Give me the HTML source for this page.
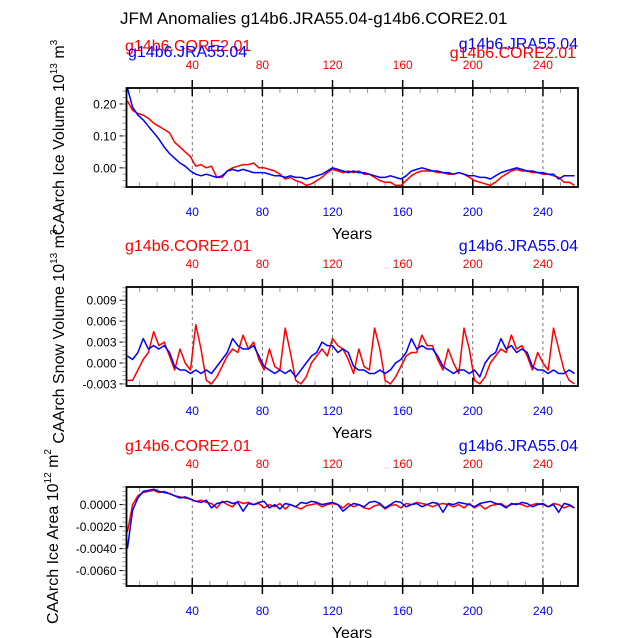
<!DOCTYPE html>
<html><head><meta charset="utf-8"><style>
html,body{margin:0;padding:0;background:#fff;}
svg{display:block;font-family:"Liberation Sans",sans-serif;}
</style></head><body>
<svg id="chart" width="638" height="638" viewBox="0 0 638 638">
<text x="120" y="24" font-size="17">JFM Anomalies g14b6.JRA55.04-g14b6.CORE2.01</text>
</svg>
<script>
const years = [3,6,9,12,15,18,21,24,27,30,33,36,39,42,45,48,51,54,57,60,63,66,69,72,75,78,81,84,87,90,93,96,99,102,105,108,111,114,117,120,123,126,129,132,135,138,141,144,147,150,153,156,159,162,165,168,171,174,177,180,183,186,189,192,195,198,201,204,207,210,213,216,219,222,225,228,231,234,237,240,243,246,249,252,255,258];
const xTicks = [40,80,120,160,200,240];
// Panel 1: ice volume (1e13 m3)
const volRed = [0.21,0.18,0.17,0.165,0.155,0.14,0.13,0.12,0.11,0.08,0.065,0.05,0.035,0.005,0.01,0.0,0.005,-0.03,-0.03,-0.01,0.0,0.005,0.01,0.01,0.015,0.0,0.0,-0.005,-0.01,-0.02,-0.035,-0.03,-0.04,-0.045,-0.055,-0.05,-0.04,-0.03,-0.015,-0.005,-0.01,-0.015,-0.01,-0.015,-0.01,-0.02,-0.02,-0.03,-0.04,-0.045,-0.045,-0.055,-0.055,-0.04,-0.025,-0.015,-0.01,-0.01,-0.01,-0.015,-0.015,-0.02,-0.02,-0.015,-0.02,-0.03,-0.04,-0.045,-0.05,-0.055,-0.045,-0.03,-0.02,-0.01,-0.005,-0.01,-0.01,-0.015,-0.015,-0.02,-0.02,-0.025,-0.03,-0.045,-0.045,-0.055];
const volBlue = [0.25,0.19,0.165,0.15,0.13,0.11,0.09,0.065,0.045,0.03,0.015,0.005,-0.01,-0.02,-0.025,-0.02,-0.025,-0.03,-0.025,-0.01,-0.005,-0.01,-0.005,-0.01,-0.015,-0.015,-0.015,-0.02,-0.025,-0.025,-0.03,-0.025,-0.03,-0.03,-0.035,-0.03,-0.025,-0.02,-0.01,0.0,-0.005,-0.01,-0.015,-0.01,-0.015,-0.015,-0.02,-0.025,-0.03,-0.03,-0.025,-0.03,-0.035,-0.025,-0.01,-0.005,0.0,-0.005,-0.01,-0.01,-0.015,-0.015,-0.02,-0.015,-0.02,-0.025,-0.025,-0.03,-0.03,-0.035,-0.025,-0.015,-0.01,-0.005,0.0,-0.005,-0.01,-0.01,-0.015,-0.015,-0.02,-0.02,-0.035,-0.025,-0.025,-0.025];
const volTicks = [0.20,0.10,0.00];
const volTickLabels = ["0.20","0.10","0.00"];
// Panel 2: snow volume (1e13 m3), values in units of 0.001
const snowRed = [-2.5,-2.5,-1.0,
 0.5,1.5,4.5,2.5,3.0,1.0,-1.0,2.0,0.0,-1.0,5.5,2.0,-2.5,-3.0,-2.0,-0.5,1.0,
 2.0,1.5,4.0,2.0,3.0,0.5,-1.0,2.0,-0.5,-1.0,5.0,1.5,-2.5,-3.0,-2.0,0.0,1.0,
 2.0,1.0,3.5,2.5,2.0,0.5,-1.5,2.0,-0.5,-1.0,5.0,2.0,-2.5,-3.0,-2.0,-0.5,1.0,
 1.5,1.5,4.0,2.5,2.5,0.5,-1.0,2.0,0.0,-1.5,5.0,2.0,-2.5,-3.0,-2.0,0.0,1.0,
 2.0,1.5,4.0,2.0,2.5,1.0,-1.0,1.5,0.0,-1.0,5.0,2.0,-1.0,-2.5,-3.0];
const snowBlue = [1.0,0.5,1.5,
 3.5,2.0,2.5,2.0,2.5,1.5,-0.5,-1.0,-1.0,-1.5,-1.0,-1.5,-1.0,-1.5,-0.5,0.5,1.5,
 3.5,2.5,2.0,2.0,2.5,1.0,-0.5,-1.0,-1.5,-1.0,-1.5,-1.0,-2.0,-1.0,0.0,1.0,1.5,
 3.0,2.5,2.5,1.5,2.0,1.5,-0.5,-1.0,-1.0,-1.5,-1.5,-1.0,-1.5,-1.0,0.0,0.5,1.5,
 3.5,2.0,2.5,2.0,2.0,1.0,-0.5,-1.0,-1.5,-1.0,-1.0,-1.5,-1.0,-2.0,0.0,1.0,1.5,
 3.5,2.0,2.5,1.5,2.0,1.5,-0.5,-1.0,-1.0,-1.5,-1.0,-1.5,-1.5,-1.0,-1.5];
const snowTicks = [9,6,3,0,-3];
const snowTickLabels = ["0.009","0.006","0.003","0.000","-0.003"];
// Panel 3: ice area (1e12 m2), values in units of 0.0001
const areaRed = [-25,0,8,11,12,13,11,12,10,8,7,6,5,3,4,2,1,-3,3,0,-2,3,1,2,0,1,-3,0,-2,1,-4,0,-2,-4,-1,0,1,-2,0,1,0,-3,1,-2,0,-3,-4,-1,0,-4,-1,0,-3,1,0,2,1,0,-2,0,1,0,-2,0,-3,1,-3,0,-4,-1,0,1,-2,0,1,0,-2,0,1,0,-2,1,0,-3,-1,-3];
const areaBlue = [-40,-5,6,12,13,14,12,11,10,8,6,7,5,3,2,4,-3,1,2,3,1,2,-6,1,0,2,3,-3,0,-4,1,0,-2,2,1,3,2,0,1,2,0,-6,-2,1,0,-2,2,3,1,-3,0,3,2,-2,0,1,-2,0,2,1,-7,1,0,2,1,0,-2,1,2,3,1,0,-3,1,0,2,1,-2,0,1,-2,0,-7,1,0,-3];
const areaTicks = [0,-20,-40,-60];
const areaTickLabels = ["0.0000","-0.0020","-0.0040","-0.0060"];

const NS = "http://www.w3.org/2000/svg";
const svg = document.getElementById('chart');
function mk(tag, attrs, parent){const e=document.createElementNS(NS,tag);for(const k in attrs)e.setAttribute(k,attrs[k]);(parent||svg).appendChild(e);return e;}
const X0=126.5, X1=578;
const xScale = v => X0 + (v-2.5)/(260-2.5)*(X1-X0);

function panel(cfg){
  const g = mk('g',{});
  
  
  const {top,bot,ymax,ymin} = cfg;
  const yScale = v => top + (ymax-v)/(ymax-ymin)*(bot-top);
  xTicks.forEach(t=>{
    const l=mk('line',{x1:xScale(t),x2:xScale(t),y1:top,y2:bot,stroke:'#555','stroke-width':0.8,'stroke-dasharray':'3,3'},g);
    
    
  });
  for(let t=10;t<=260;t+=10){
    const x=xScale(t); if(x>X1) continue;
    const major = t%40===0;
    mk('line',{x1:x,x2:x,y1:top,y2:top+(major?8:5),stroke:major?'#000':'#999','stroke-width':major?1.5:1},g);
    mk('line',{x1:x,x2:x,y1:bot,y2:bot-(major?8:5),stroke:major?'#000':'#999','stroke-width':major?1.5:1},g);
    if(major){
      mk('line',{x1:x,x2:x,y1:top-8,y2:top,stroke:'#000','stroke-width':1.5},g);
      mk('line',{x1:x,x2:x,y1:bot,y2:bot+8,stroke:'#000','stroke-width':1.5},g);
    }
  }
  [[cfg.red,'#f00','red-series'],[cfg.blue,'#00f','blue-series']].forEach(([arr,col,nm])=>{
    const d = arr.map((v,i)=>(i?'L':'M')+xScale(years[i]).toFixed(1)+','+yScale(v).toFixed(1)).join('');
    const p=mk('path',{d:d,fill:'none',stroke:col,'stroke-width':1.5,'stroke-linejoin':'round'},g);
    
    
  });
  cfg.ticks.forEach((t,i)=>{
    const y=yScale(t);
    mk('line',{x1:X0-7,x2:X0,y1:y,y2:y,stroke:'#000','stroke-width':1},g);
    const tx=mk('text',{x:X0-10,y:y+4.5,'font-size':12,'text-anchor':'end'},g);
    tx.textContent=cfg.labels[i];
    
    
  });
  const step=(cfg.ticks[0]-cfg.ticks[1])/5;
  for(let v=cfg.ticks[0]+step*5; v>=ymin; v-=step){
    if(v>ymax) continue;
    mk('line',{x1:X0-4,x2:X0,y1:yScale(v),y2:yScale(v),stroke:'#999','stroke-width':1},g);
  }
  const b=mk('rect',{x:X0,y:top,width:X1-X0,height:bot-top,fill:'none',stroke:'#000','stroke-width':1.8},g);
  
  
  xTicks.forEach(t=>{
    const a=mk('text',{x:xScale(t),y:top-19,'font-size':12,fill:'#f00','text-anchor':'middle'},g);
    a.textContent=t;
    
    
    const c=mk('text',{x:xScale(t),y:bot+29,'font-size':12,fill:'#00f','text-anchor':'middle'},g);
    c.textContent=t;
    
    
  });
  const xt=mk('text',{x:352,y:bot+52,'font-size':16,'text-anchor':'middle'},g);
  xt.textContent='Years';
  
  
  const cy=(top+bot)/2;
  const yt=mk('text',{x:0,y:0,'font-size':16,'text-anchor':'middle',transform:`translate(${cfg.ytx},${cy}) rotate(-90)`},g);
  yt.innerHTML=cfg.ytitle;
  
  
  cfg.legends.forEach(L=>{
    const t=mk('text',{x:L[0],y:L[1],'font-size':16,fill:L[2],'text-anchor':L[3]},g);
    t.textContent=L[4];
    
    
  });
}

panel({name:'ice-volume-panel',top:88,bot:187,ymax:0.25,ymin:-0.06,red:volRed,blue:volBlue,ticks:volTicks,labels:volTickLabels,ytx:64,
  ytitle:'CAArch Ice Volume 10<tspan dy="-7" font-size="10">13</tspan><tspan dy="7"> m</tspan><tspan dy="-7" font-size="10">3</tspan>',
  legends:[[125,51,'#f00','start','g14b6.CORE2.01','legend-core2-left'],[128,57,'#00f','start','g14b6.JRA55.04','legend-jra55-left'],[578,49,'#00f','end','g14b6.JRA55.04','legend-jra55-right'],[576,58,'#f00','end','g14b6.CORE2.01','legend-core2-right']]});
panel({name:'snow-volume-panel',top:287,bot:386,ymax:10.9,ymin:-3.3,red:snowRed,blue:snowBlue,ticks:snowTicks,labels:snowTickLabels,ytx:64,
  ytitle:'CAArch Snow Volume 10<tspan dy="-7" font-size="10">13</tspan><tspan dy="7"> m</tspan><tspan dy="-7" font-size="10">3</tspan>',
  legends:[[125,251,'#f00','start','g14b6.CORE2.01','legend-core2'],[578,251,'#00f','end','g14b6.JRA55.04','legend-jra55']]});
panel({name:'ice-area-panel',top:487,bot:586,ymax:16,ymin:-74,red:areaRed,blue:areaBlue,ticks:areaTicks,labels:areaTickLabels,ytx:58,
  ytitle:'CAArch Ice Area 10<tspan dy="-7" font-size="10">12</tspan><tspan dy="7"> m</tspan><tspan dy="-7" font-size="10">2</tspan>',
  legends:[[125,451,'#f00','start','g14b6.CORE2.01','legend-core2'],[578,451,'#00f','end','g14b6.JRA55.04','legend-jra55']]});
</script>
</body></html>
